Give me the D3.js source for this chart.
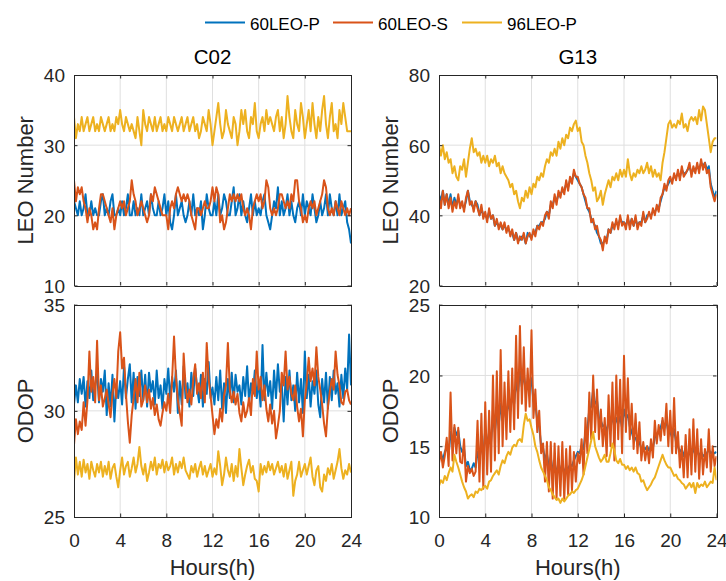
<!DOCTYPE html>
<html>
<head>
<meta charset="utf-8">
<script src="https://cdn.jsdelivr.net/npm/d3@7"></script>
<style>
  html, body { margin: 0; padding: 0; background: #fff; }
  svg { display: block; font-family: "Liberation Sans", Arial, Helvetica, sans-serif; }
</style>
</head>
<body>
<svg id="chart" width="726" height="581"></svg>
<script>
// ---- data ---------------------------------------------------------------
const seriesNames = ["60LEO-P", "60LEO-S", "96LEO-P"];
const stationNames = ["C02", "G13"];
const hourTicks = [0, 4, 8, 12, 16, 20, 24];
const sampleStepHours = 1 / 6; // one sample every 10 minutes

const leoTicksC02 = [10, 20, 30, 40];
const leoTicksG13 = [20, 40, 60, 80];
const odopTicksC02 = [25, 30, 35];
const odopTicksG13 = [10, 15, 20, 25];

// C02 – number of visible LEO satellites
const c02Leo60P = [
  22,21,20,22,20,21,23,20,20,22,20,21,
  20,20,22,23,20,21,20,22,23,20,20,21,
  20,22,20,21,23,20,20,22,20,21,20,23,
  20,21,22,20,23,21,20,20,22,20,21,23,
  20,22,19,18,20,23,20,21,22,20,19,20,
  22,20,23,20,21,20,22,18,20,23,21,20,
  20,22,20,23,20,21,23,22,20,20,22,24,
  20,21,23,20,22,20,19,21,23,20,22,20,
  21,20,22,23,20,19,18,20,22,21,24,20,
  22,20,21,23,20,22,20,19,21,22,20,23,
  20,22,21,20,23,21,19,20,22,20,21,23,
  20,23,21,20,22,20,23,20,21,22,19,18,
  16];
const c02Leo60S = [
  25,22,24,23,24,22,21,19,21,20,18,19,
  18,21,23,23,22,21,20,19,21,18,20,21,
  22,21,22,20,21,22,25,23,22,20,21,22,
  21,20,19,20,23,22,24,23,22,21,20,20,
  20,18,21,22,21,23,24,23,22,23,22,23,
  22,20,19,18,21,21,20,21,22,21,21,22,
  24,22,24,23,19,20,18,19,21,23,22,23,
  22,23,22,23,21,20,21,20,18,21,22,23,
  22,23,21,22,25,24,21,20,21,20,21,23,
  23,22,21,22,21,23,22,25,25,22,21,19,
  20,19,21,22,21,22,20,21,22,23,25,24,
  21,20,21,20,22,21,20,22,21,20,21,20,
  21];
const c02Leo96P = [
  34,31,33,32,34,32,33,34,32,33,34,32,
  33,32,34,33,32,33,34,32,33,32,34,33,
  35,33,32,34,33,32,33,32,31,34,32,30,
  35,33,32,34,33,32,34,32,33,34,32,33,
  32,34,33,32,34,33,32,33,34,32,33,34,
  32,33,34,32,33,31,32,34,33,32,35,33,
  30,32,34,36,33,31,32,35,33,32,31,34,
  33,30,32,35,33,35,32,31,34,33,36,32,
  31,33,34,32,35,33,34,33,32,34,35,32,
  34,31,33,37,34,32,31,35,33,32,36,34,
  31,33,35,32,36,33,31,34,32,35,37,33,
  31,34,36,32,33,31,35,33,36,34,32,32,
  32];

// G13 – number of visible LEO satellites
const g13Leo60P = [
  46,44,47,43,46,43,46,42,45,43,45,43,
  43,42,44,47,44,43,42,44,43,40,42,40,
  40,39,41,39,40,37,38,37,37,36,37,36,
  36,35,35,33,35,33,33,34,34,32,35,34,
  34,35,35,37,37,38,38,39,41,40,43,43,
  45,44,46,46,47,47,49,48,50,50,52,51,
  50,49,48,46,44,42,41,39,38,37,35,34,
  32,32,33,33,36,35,37,37,38,37,39,38,
  38,37,39,37,39,37,39,37,38,38,40,38,
  40,40,40,41,41,42,42,44,46,48,48,49,
  50,50,51,51,52,51,53,52,52,53,54,52,
  53,53,54,53,55,54,55,53,54,49,47,45,
  47];
const g13Leo60S = [
  45,42,47,43,46,42,45,41,44,42,46,42,
  44,41,45,47,43,44,41,44,42,40,43,39,
  41,38,42,39,40,37,39,36,38,36,38,35,
  37,34,36,33,35,32,34,33,35,32,34,35,
  33,36,34,37,36,38,37,40,41,39,44,42,
  46,43,47,45,48,46,50,47,51,49,53,51,
  51,49,48,46,45,42,42,38,39,36,37,34,
  33,30,34,32,36,35,38,36,39,36,40,37,
  38,36,40,36,39,37,40,36,38,37,41,38,
  39,41,39,42,40,43,41,45,46,49,47,50,
  51,49,52,50,53,50,54,51,52,53,55,51,
  54,52,55,52,56,53,55,52,53,48,46,44,
  46];
const g13Leo96P = [
  60,57,60,56,58,55,56,52,54,51,50,54,
  53,56,51,55,59,62,58,59,57,58,55,57,
  55,57,54,56,55,57,54,55,52,54,52,51,
  50,48,49,46,47,44,42,45,44,47,45,48,
  46,49,48,51,50,52,51,54,56,55,58,57,
  59,57,61,59,62,60,63,62,65,64,66,67,
  64,65,61,60,57,55,52,50,47,48,44,45,
  47,43,46,48,50,48,51,50,52,50,53,51,
  53,51,56,52,50,52,51,53,52,54,52,53,
  55,52,54,51,53,51,52,50,55,58,62,66,
  67,65,66,65,67,66,69,65,66,64,67,68,
  67,68,66,70,67,71,70,66,62,58,61,62,
  62];

// C02 – ODOP
const c02Odop60P = [
  30.3,31.2,30.4,31.5,30.8,31.6,30.2,31.4,30.6,31.9,30.5,31.2,
  31.8,30.4,31.5,30.9,31.9,29.8,31.3,30.2,31.7,29.5,31.2,30.6,
  31.4,30.3,32.1,30.6,31.5,32.2,30.4,31.8,30.1,31.6,30.7,31.9,
  30.5,31.7,30.2,31.8,30.9,31.4,30.3,31.9,30.6,31.2,30.1,31.5,
  30.8,32.0,30.5,31.6,30.9,31.9,29.9,31.4,30.3,32.1,30.6,31.3,
  30.2,31.8,30.7,32.0,31.1,30.4,31.7,30.2,31.5,30.8,32.3,30.6,
  31.1,30.3,31.6,30.5,31.9,30.1,31.3,29.9,31.5,30.6,31.8,30.4,
  31.7,30.9,31.2,30.3,31.6,30.7,32.1,30.4,31.3,30.8,31.9,30.6,
  31.4,30.2,33.1,30.5,31.8,30.7,31.4,30.1,31.9,30.6,32.2,30.9,
  31.3,29.5,31.6,30.3,31.9,30.5,31.2,30.0,31.8,30.4,31.5,29.9,
  32.8,30.6,31.7,30.2,31.4,30.8,31.9,30.3,29.7,31.5,30.4,31.8,
  30.1,31.6,30.5,31.9,30.8,31.3,30.2,31.7,30.6,32.0,31.0,33.6,
  31.2];
const c02Odop60S = [
  28.4,29.6,28.9,29.5,29.1,30.4,29.3,30.5,32.8,30.9,31.6,30.4,
  33.3,30.5,31.2,30.2,30.6,31.0,30.3,29.7,30.8,31.5,30.6,32.8,
  33.7,32.0,32.5,30.8,29.5,28.5,29.8,30.6,31.5,30.4,31.8,30.2,
  30.5,31.2,30.4,31.0,30.1,30.6,29.8,30.3,29.6,29.3,29.9,30.4,
  30.0,30.8,29.9,31.5,33.5,31.6,30.5,29.9,29.3,32.7,31.2,30.4,
  31.0,30.3,31.5,32.2,30.8,31.3,30.6,31.8,30.4,33.2,31.5,30.7,
  29.8,28.9,29.6,29.2,30.1,29.5,30.7,31.2,33.2,31.0,30.4,30.9,
  30.3,30.8,29.9,29.5,30.4,29.7,30.0,30.6,29.8,31.5,30.7,32.8,
  31.0,31.6,30.5,31.2,30.1,29.5,30.3,29.4,30.0,28.7,29.3,30.0,
  31.8,31.2,32.8,31.0,31.6,30.8,30.5,31.2,30.2,29.5,30.1,28.8,
  30.5,31.3,32.5,31.4,32.0,31.2,33.0,31.6,31.0,30.3,29.4,28.8,
  30.2,30.9,31.5,31.0,32.8,31.7,31.2,30.4,30.3,30.9,31.0,30.5,
  30.3];
const c02Odop96P = [
  26.7,27.8,27.0,27.6,26.9,27.7,27.1,27.5,26.8,27.6,27.2,26.9,
  27.5,27.1,27.6,26.9,27.4,27.0,27.6,26.8,27.3,27.5,26.9,26.4,
  27.2,27.8,27.0,27.4,27.6,26.9,27.3,27.8,27.1,27.5,28.3,27.4,
  27.0,27.5,26.7,27.1,27.6,27.2,27.8,27.0,27.5,27.3,27.7,27.1,
  27.6,27.2,27.4,27.8,27.0,27.5,27.1,27.6,27.3,27.8,27.2,27.0,
  26.8,27.4,27.1,27.5,26.9,27.3,27.6,27.0,27.4,26.9,27.2,27.5,
  26.9,27.3,27.0,28.1,27.4,26.5,27.0,27.8,27.2,26.9,27.5,26.7,
  27.4,26.9,28.2,27.3,26.5,27.0,27.4,27.7,27.1,27.4,26.8,26.7,
  26.2,27.5,27.0,27.4,27.1,27.6,27.2,27.5,27.0,27.3,27.6,27.1,
  27.4,26.9,27.5,26.8,27.2,27.6,26.0,26.7,27.0,27.6,26.9,27.2,
  27.5,27.0,27.4,27.8,26.9,26.5,27.2,27.4,26.4,26.2,27.0,26.7,
  27.3,27.0,27.5,26.8,27.2,27.6,28.2,27.3,26.8,27.2,27.0,27.5,
  27.1];

// G13 – ODOP
const g13Odop60P = [
  14.2,14.5,14.0,14.6,14.9,14.4,16.0,15.2,16.3,15.8,16.1,15.0,
  14.6,14.8,13.6,13.9,13.3,13.4,13.8,13.5,14.6,14.0,15.2,14.3,
  16.2,15.0,16.0,15.3,17.2,16.0,17.4,16.5,18.0,16.8,17.6,17.2,
  18.0,17.5,18.6,18.0,19.5,18.8,20.3,19.2,20.1,19.0,19.6,19.0,
  19.8,18.2,18.0,16.8,16.4,15.0,14.9,14.0,14.5,13.5,14.2,13.3,
  13.8,13.2,13.6,13.3,13.8,13.1,13.5,13.4,13.7,13.6,14.0,14.3,
  14.6,14.5,15.0,14.8,16.0,16.2,17.6,17.8,19.0,18.0,18.2,17.0,
  16.8,16.4,16.5,16.0,16.8,16.4,17.2,16.3,17.0,16.6,17.1,16.3,
  17.6,17.0,17.2,16.4,16.0,15.5,15.6,15.2,15.3,14.8,14.9,14.8,
  15.0,14.7,15.0,14.9,15.6,15.8,16.0,16.3,16.8,16.3,16.8,16.0,
  16.0,15.6,16.2,15.3,15.0,14.6,14.8,14.3,14.8,14.2,14.6,14.3,
  14.8,14.5,14.7,14.3,14.6,14.3,14.4,14.5,14.8,14.5,14.6,14.5,
  14.6];
const g13Odop60S = [
  13.8,14.6,13.5,14.3,15.6,13.6,18.8,14.0,16.5,14.5,16.3,13.9,
  13.8,15.5,12.5,13.6,13.1,13.4,12.9,13.2,16.8,12.5,17.3,12.0,
  18.1,13.0,17.5,13.2,20.0,14.0,20.3,14.5,21.8,15.0,19.5,15.5,
  20.3,16.0,20.5,16.2,22.8,17.0,23.5,18.0,22.0,17.5,20.5,17.8,
  23.2,17.0,19.0,16.0,17.5,14.5,15.2,12.5,15.3,11.8,15.3,11.3,
  15.2,11.3,15.0,11.5,15.3,11.2,14.8,11.6,15.0,11.9,14.6,12.5,
  14.5,13.8,15.5,13.0,17.0,14.5,18.8,15.5,20.0,16.0,19.0,15.5,
  17.6,15.0,17.0,14.3,18.6,15.0,19.5,14.0,20.0,15.5,19.7,14.5,
  21.4,16.0,19.8,15.5,18.0,14.8,17.3,14.5,16.7,14.0,15.3,14.0,
  15.0,13.8,15.5,14.2,16.8,15.2,16.5,15.4,17.0,15.8,18.0,15.0,
  17.5,14.5,18.4,14.5,16.0,13.5,15.0,12.8,15.8,12.8,16.2,13.0,
  16.9,13.2,16.2,12.7,15.5,13.0,14.8,13.5,16.2,13.2,15.0,13.6,
  14.3];
const g13Odop96P = [
  12.2,12.6,12.4,12.9,12.6,13.1,13.5,13.2,14.4,13.9,13.5,13.0,
  12.5,12.1,11.8,11.3,11.5,11.6,11.4,11.8,11.7,12.0,11.9,12.1,
  12.2,12.0,12.5,12.6,12.9,13.1,13.3,13.0,13.6,14.0,13.8,14.3,
  14.6,14.4,14.9,15.1,15.0,15.4,15.5,15.3,16.5,17.3,16.8,16.9,
  16.3,15.8,15.0,14.6,14.0,13.5,13.2,12.9,12.6,12.1,11.9,11.6,
  11.4,11.2,11.3,11.0,11.3,11.1,11.3,11.5,11.6,11.8,11.7,11.9,
  12.0,12.3,12.6,13.0,13.6,14.2,14.8,15.4,16.0,15.0,14.6,14.2,
  13.9,14.1,14.4,13.9,13.9,14.5,15.2,14.7,14.0,13.8,14.1,13.7,
  13.7,13.4,13.6,13.3,13.5,13.2,13.5,13.1,13.0,12.5,12.6,12.2,
  11.9,12.1,12.3,12.6,12.8,13.2,13.6,14.0,14.4,14.0,13.7,13.5,
  13.5,13.2,12.9,13.0,12.7,12.6,12.4,12.3,12.0,12.2,12.4,12.1,
  12.4,11.7,12.4,12.1,12.3,12.2,12.5,12.1,12.3,12.5,12.4,13.5,
  12.6];

// ---- layout & style -----------------------------------------------------
const colors = ["#0072BD", "#D95319", "#EDB120"];
const axisColor = "#262626";
const gridColor = "#dfdfdf";
const tickFont = 19, labelFont = 22, titleFont = 20.5, legendFont = 17;
const tickLen = 3.5;

const cols = [{ x0: 74, x1: 351 }, { x0: 439, x1: 716.5 }];
const rows = [{ y0: 75, y1: 285.5 }, { y0: 304.7, y1: 517 }];

const panels = [
  { row: 0, col: 0, yLabel: "LEO Number", title: stationNames[0], domain: [10, 40], ticks: leoTicksC02, series: [c02Leo60P, c02Leo60S, c02Leo96P] },
  { row: 0, col: 1, yLabel: "LEO Number", title: stationNames[1], domain: [20, 80], ticks: leoTicksG13, series: [g13Leo60P, g13Leo60S, g13Leo96P] },
  { row: 1, col: 0, yLabel: "ODOP", domain: [25, 35], ticks: odopTicksC02, series: [c02Odop60P, c02Odop60S, c02Odop96P] },
  { row: 1, col: 1, yLabel: "ODOP", domain: [10, 25], ticks: odopTicksG13, series: [g13Odop60P, g13Odop60S, g13Odop96P] }
];

const svg = d3.select("#chart");
const defs = svg.append("defs");

panels.forEach((p, pi) => {
  const c = cols[p.col], r = rows[p.row];
  const w = c.x1 - c.x0, h = r.y1 - r.y0;
  const x = d3.scaleLinear().domain([0, 24]).range([0, w]);
  const y = d3.scaleLinear().domain(p.domain).range([h, 0]);

  const g = svg.append("g").attr("transform", `translate(${c.x0},${r.y0})`);

  defs.append("clipPath").attr("id", "clip" + pi)
    .append("rect").attr("width", w).attr("height", h);

  // grid
  const grid = g.append("g").attr("stroke", gridColor).attr("stroke-width", 1);
  grid.selectAll("line.gx").data(hourTicks.slice(1, -1)).join("line")
    .attr("x1", d => x(d)).attr("x2", d => x(d)).attr("y1", 0).attr("y2", h);
  grid.selectAll("line.gy").data(p.ticks.slice(1, -1)).join("line")
    .attr("y1", d => y(d)).attr("y2", d => y(d)).attr("x1", 0).attr("x2", w);

  // series lines
  const line = d3.line()
    .x((d, i) => x(i * sampleStepHours))
    .y(d => y(d));
  const lines = g.append("g").attr("clip-path", `url(#clip${pi})`);
  p.series.forEach((vals, si) => {
    lines.append("path").datum(vals)
      .attr("fill", "none")
      .attr("stroke", colors[si])
      .attr("stroke-width", 2)
      .attr("stroke-linejoin", "round")
      .attr("d", line);
  });

  // axes (mirrored ticks on all four sides)
  const styleAxis = sel => {
    sel.select(".domain").attr("stroke", axisColor).attr("stroke-width", 1);
    sel.selectAll(".tick line").attr("stroke", axisColor).attr("stroke-width", 1);
    sel.selectAll(".tick text").attr("fill", axisColor).style("font-size", tickFont + "px");
  };
  const bottom = g.append("g").attr("transform", `translate(0,${h})`)
    .call(d3.axisBottom(x).tickValues(hourTicks).tickSizeInner(-tickLen).tickSizeOuter(0).tickPadding(16.5).tickFormat(d3.format("d")))
    .call(styleAxis);
  if (p.row === 0) bottom.selectAll(".tick text").remove();
  g.append("g")
    .call(d3.axisTop(x).tickValues(hourTicks).tickSizeInner(-tickLen).tickSizeOuter(0).tickFormat(""))
    .call(styleAxis);
  g.append("g")
    .call(d3.axisLeft(y).tickValues(p.ticks).tickSizeInner(-tickLen).tickSizeOuter(0).tickPadding(9).tickFormat(d3.format("d")))
    .call(styleAxis)
    .selectAll(".tick text").attr("dy", "0.36em");
  g.append("g").attr("transform", `translate(${w},0)`)
    .call(d3.axisRight(y).tickValues(p.ticks).tickSizeInner(-tickLen).tickSizeOuter(0).tickFormat(""))
    .call(styleAxis);
  g.selectAll(".domain").attr("shape-rendering", "crispEdges");

  // y label
  g.append("text")
    .attr("transform", `translate(-41,${h / 2}) rotate(-90)`)
    .attr("text-anchor", "middle")
    .attr("fill", axisColor)
    .style("font-size", labelFont + "px")
    .text(p.yLabel);

  // x label under bottom row
  if (p.row === 1) {
    g.append("text")
      .attr("x", w / 2).attr("y", h + 58.5)
      .attr("text-anchor", "middle")
      .attr("fill", axisColor)
      .style("font-size", labelFont + "px")
      .text("Hours(h)");
  }

  // panel title
  if (p.title) {
    g.append("text")
      .attr("x", w / 2).attr("y", -11)
      .attr("text-anchor", "middle")
      .attr("fill", "#000")
      .style("font-size", titleFont + "px")
      .text(p.title);
  }
});

// legend across the top
const legendItems = [
  { x: 205, name: seriesNames[0], color: colors[0] },
  { x: 333, name: seriesNames[1], color: colors[1] },
  { x: 462, name: seriesNames[2], color: colors[2] }
];
const legend = svg.append("g").attr("transform", "translate(0,22.5)");
legendItems.forEach(it => {
  legend.append("line")
    .attr("x1", it.x).attr("x2", it.x + 40).attr("y1", 0).attr("y2", 0)
    .attr("stroke", it.color).attr("stroke-width", 2);
  legend.append("text")
    .attr("x", it.x + 45).attr("y", 7.2)
    .attr("fill", "#000")
    .style("font-size", legendFont + "px")
    .text(it.name);
});
</script>
</body>
</html>
